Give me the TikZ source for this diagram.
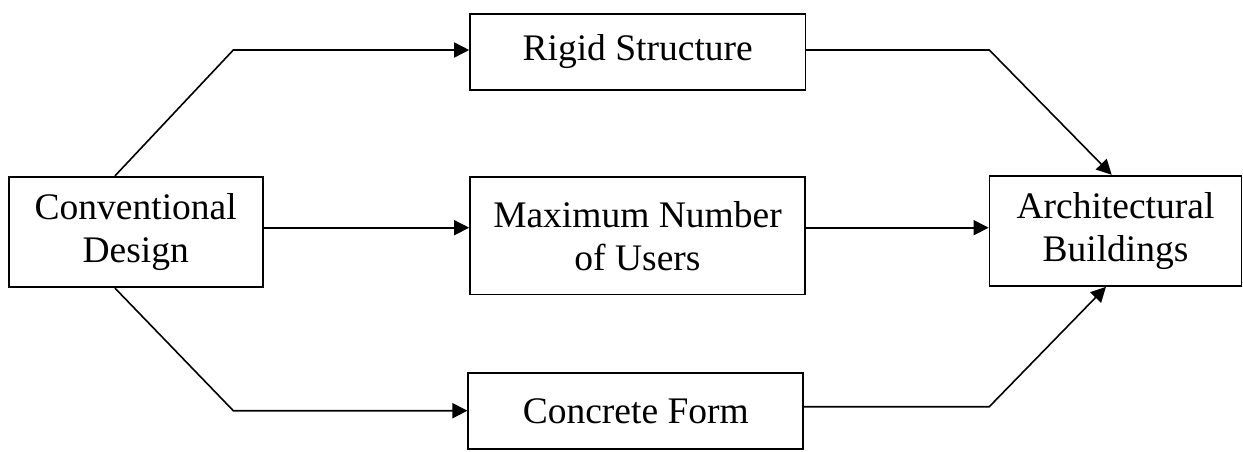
\documentclass[tikz,border=0pt]{standalone}
\usepackage{fontspec}
\setmainfont{Liberation Serif}
\usetikzlibrary{arrows.meta}
\begin{document}
\begin{tikzpicture}[x=1pt,y=1pt,
  box/.style={draw, line width=1.7pt, rectangle, inner sep=0pt, align=center,
    font=\fontsize{37.5}{43}\selectfont},
  conn/.style={line width=1.6pt, -{Triangle[length=15pt,width=15pt]}},
  plain/.style={line width=1.6pt}]
\useasboundingbox (0,0) rectangle (1243,-451);
\node[box, minimum width=254pt, minimum height=110.6pt] (conv) at (135.7,-232) {Conventional\\Design};
\node[box, minimum width=335.3pt, minimum height=76pt] (rigid) at (637.7,-52) {Rigid Structure};
\node[box, minimum width=335pt, minimum height=117.3pt] (max) at (637.5,-235.7) {Maximum Number\\of Users};
\node[box, minimum width=335pt, minimum height=76.6pt] (conc) at (635.8,-411) {Concrete Form};
\node[box, minimum width=252pt, minimum height=110.3pt] (arch) at (1115.5,-230.8) {Architectural\\Buildings};
\coordinate (k1) at (233.3,-50);
\coordinate (k2) at (233.3,-410.7);
\coordinate (k3) at (989.3,-50);
\coordinate (k4) at (989.3,-406.7);
\coordinate (m) at (0,-227.7);
\coordinate (xl) at (115,0);
\coordinate (xt) at (1111.7,0);
\coordinate (xb) at (1106,0);
\draw[conn] (conv.north -| xl) -- (k1) -- (k1 -| rigid.west);
\draw[conn] (conv.east |- m) -- (max.west |- m);
\draw[conn] (conv.south -| xl) -- (k2) -- (k2 -| conc.west);
\draw[conn] (rigid.east |- k3) -- (k3) -- (arch.north -| xt);
\draw[conn] (max.east |- m) -- (arch.west |- m);
\draw[conn] (conc.east |- k4) -- (k4) -- (arch.south -| xb);
\end{tikzpicture}
\end{document}
